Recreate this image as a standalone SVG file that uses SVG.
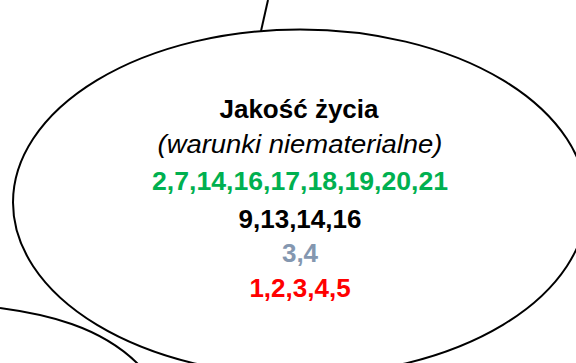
<svg xmlns="http://www.w3.org/2000/svg" width="576" height="363" viewBox="0 0 576 363">
<style>
.shape{fill:#fff;stroke:#000;stroke-width:2}
.edge{fill:none;stroke:#000;stroke-width:2}
.t{font-family:"Liberation Sans",Arial,sans-serif;font-size:26px;text-anchor:middle}
.b{font-weight:bold}
.i{font-style:italic}
</style>
<rect width="576" height="363" fill="#fff"/>
<g id="connectors">
<line class="edge" x1="268" y1="0" x2="261" y2="31"/>
</g>
<g id="node-other">
<path class="edge" d="M0,308 C45,314 100,326 138,364"/>
</g>
<g id="node-jakosc">
<ellipse class="shape" cx="300" cy="202.5" rx="287" ry="173"/>
<text class="t b" x="299" y="118" fill="#000">Jakość życia</text>
<text class="t i" x="300" y="153" fill="#000" textLength="285" lengthAdjust="spacingAndGlyphs">(warunki niematerialne)</text>
<text class="t b" x="300" y="190" fill="#00B050" textLength="296" lengthAdjust="spacingAndGlyphs">2,7,14,16,17,18,19,20,21</text>
<text class="t b" x="300" y="228" fill="#000">9,13,14,16</text>
<text class="t b" x="300" y="262" fill="#8497B0">3,4</text>
<text class="t b" x="300" y="297" fill="#FF0000">1,2,3,4,5</text>
</g>
</svg>
